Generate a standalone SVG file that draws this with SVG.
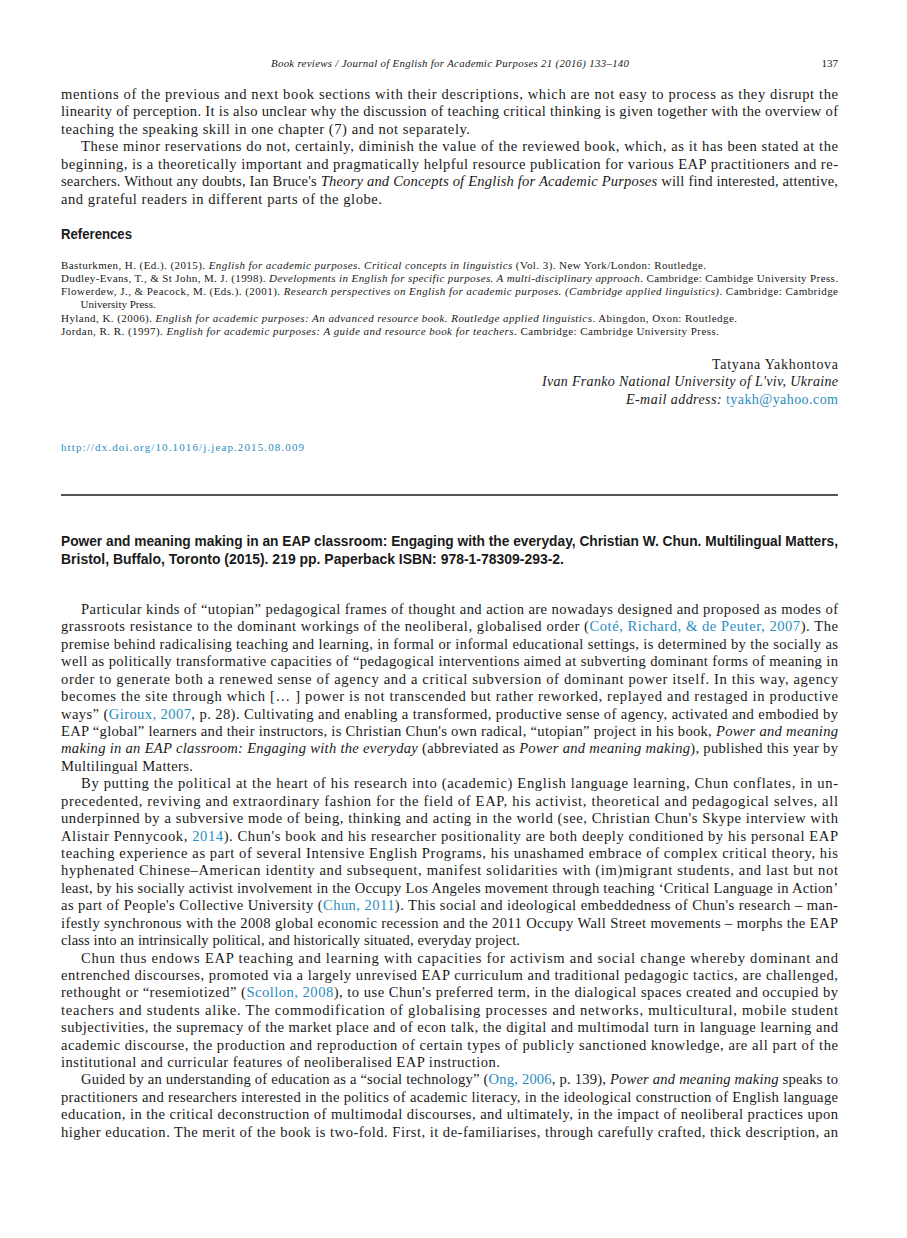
<svg xmlns="http://www.w3.org/2000/svg" width="907" height="1238" viewBox="0 0 907 1238">
<style>
.b{font-family:"Liberation Serif","DejaVu Serif",serif;font-size:14.6px;fill:#1a1a1a}
.r{font-family:"Liberation Serif","DejaVu Serif",serif;font-size:11px;fill:#1a1a1a}
.h{font-family:"Liberation Serif","DejaVu Serif",serif;font-size:10.8px;fill:#1a1a1a;font-style:italic}
.s{font-family:"Liberation Serif","DejaVu Serif",serif;font-size:14px;fill:#1a1a1a}
.t{font-family:"Liberation Sans","DejaVu Sans",sans-serif;font-size:14px;font-weight:bold;fill:#1a1a1a}
.i{font-style:italic}
.l{fill:#2a8cc0}
</style>
<rect width="907" height="1238" fill="#ffffff"/>
<g id="header">
<text class="h" x="271" y="66.5" textLength="358" lengthAdjust="spacing">Book reviews / Journal of English for Academic Purposes 21 (2016) 133–140</text>
<text class="r" x="838" y="66.5" text-anchor="end">137</text>
</g>
<g id="previous-review">
<text class="b" x="61" y="98.5" textLength="777" lengthAdjust="spacing">mentions of the previous and next book sections with their descriptions, which are not easy to process as they disrupt the</text>
<text class="b" x="61" y="116" textLength="777" lengthAdjust="spacing">linearity of perception. It is also unclear why the discussion of teaching critical thinking is given together with the overview of</text>
<text class="b" x="61" y="133.5" textLength="409" lengthAdjust="spacing">teaching the speaking skill in one chapter (7) and not separately.</text>
<text class="b" x="81" y="151" textLength="757" lengthAdjust="spacing">These minor reservations do not, certainly, diminish the value of the reviewed book, which, as it has been stated at the</text>
<text class="b" x="61" y="168.5" textLength="777" lengthAdjust="spacing">beginning, is a theoretically important and pragmatically helpful resource publication for various EAP practitioners and re-</text>
<text class="b" x="61" y="186" textLength="777" lengthAdjust="spacing">searchers. Without any doubts, Ian Bruce's <tspan class="i">Theory and Concepts of English for Academic Purposes</tspan> will find interested, attentive,</text>
<text class="b" x="61" y="203.5" textLength="321" lengthAdjust="spacing">and grateful readers in different parts of the globe.</text>
</g>
<g id="references">
<text class="t" x="61" y="239" textLength="71" lengthAdjust="spacingAndGlyphs">References</text>
<text class="r" x="61" y="268.5" textLength="645" lengthAdjust="spacing">Basturkmen, H. (Ed.). (2015). <tspan class="i">English for academic purposes. Critical concepts in linguistics</tspan> (Vol. 3). New York/London: Routledge.</text>
<text class="r" x="61" y="281.8" textLength="777" lengthAdjust="spacing">Dudley-Evans, T., &amp; St John, M. J. (1998). <tspan class="i">Developments in English for specific purposes. A multi-disciplinary approach</tspan>. Cambridge: Cambidge University Press.</text>
<text class="r" x="61" y="295.1" textLength="777" lengthAdjust="spacing">Flowerdew, J., &amp; Peacock, M. (Eds.). (2001). <tspan class="i">Research perspectives on English for academic purposes. (Cambridge applied linguistics)</tspan>. Cambridge: Cambridge</text>
<text class="r" x="80.5" y="308.4">University Press.</text>
<text class="r" x="61" y="321.7" textLength="676" lengthAdjust="spacing">Hyland, K. (2006). <tspan class="i">English for academic purposes: An advanced resource book. Routledge applied linguistics</tspan>. Abingdon, Oxon: Routledge.</text>
<text class="r" x="61" y="335" textLength="658" lengthAdjust="spacing">Jordan, R. R. (1997). <tspan class="i">English for academic purposes: A guide and resource book for teachers</tspan>. Cambridge: Cambridge University Press.</text>
</g>
<g id="signature">
<text class="s" x="838" y="368.5" text-anchor="end" textLength="126" lengthAdjust="spacing">Tatyana Yakhontova</text>
<text class="s i" x="838" y="386" text-anchor="end" textLength="296" lengthAdjust="spacing">Ivan Franko National University of L'viv, Ukraine</text>
<text class="s" x="838" y="403.5" text-anchor="end" textLength="212" lengthAdjust="spacing"><tspan class="i">E-mail address: </tspan><tspan class="l">tyakh@yahoo.com</tspan></text>
</g>
<g id="doi">
<text class="r l" x="61" y="450.5" textLength="243" lengthAdjust="spacing">http://dx.doi.org/10.1016/j.jeap.2015.08.009</text>
</g>
<line id="rule" x1="61" y1="495" x2="838" y2="495" stroke="#1a1a1a" stroke-width="1.3"/>
<g id="title">
<text class="t" x="61" y="545.5" textLength="777" lengthAdjust="spacingAndGlyphs">Power and meaning making in an EAP classroom: Engaging with the everyday, Christian W. Chun. Multilingual Matters,</text>
<text class="t" x="61" y="563.5" textLength="503" lengthAdjust="spacingAndGlyphs">Bristol, Buffalo, Toronto (2015). 219 pp. Paperback ISBN: 978-1-78309-293-2.</text>
</g>
<g id="review-body">
<text class="b" x="81" y="614" textLength="757" lengthAdjust="spacing">Particular kinds of “utopian” pedagogical frames of thought and action are nowadays designed and proposed as modes of</text>
<text class="b" x="61" y="631.4" textLength="777" lengthAdjust="spacing">grassroots resistance to the dominant workings of the neoliberal, globalised order (<tspan class="l">Coté, Richard, &amp; de Peuter, 2007</tspan>). The</text>
<text class="b" x="61" y="648.8" textLength="777" lengthAdjust="spacing">premise behind radicalising teaching and learning, in formal or informal educational settings, is determined by the socially as</text>
<text class="b" x="61" y="666.3" textLength="777" lengthAdjust="spacing">well as politically transformative capacities of “pedagogical interventions aimed at subverting dominant forms of meaning in</text>
<text class="b" x="61" y="683.7" textLength="777" lengthAdjust="spacing">order to generate both a renewed sense of agency and a critical subversion of dominant power itself. In this way, agency</text>
<text class="b" x="61" y="701.1" textLength="777" lengthAdjust="spacing">becomes the site through which [… ] power is not transcended but rather reworked, replayed and restaged in productive</text>
<text class="b" x="61" y="718.5" textLength="777" lengthAdjust="spacing">ways” (<tspan class="l">Giroux, 2007</tspan>, p. 28). Cultivating and enabling a transformed, productive sense of agency, activated and embodied by</text>
<text class="b" x="61" y="736" textLength="777" lengthAdjust="spacing">EAP “global” learners and their instructors, is Christian Chun's own radical, “utopian” project in his book, <tspan class="i">Power and meaning</tspan></text>
<text class="b" x="61" y="753.4" textLength="777" lengthAdjust="spacing"><tspan class="i">making in an EAP classroom: Engaging with the everyday</tspan> (abbreviated as <tspan class="i">Power and meaning making</tspan>), published this year by</text>
<text class="b" x="61" y="770.8" textLength="132" lengthAdjust="spacing">Multilingual Matters.</text>
<text class="b" x="81" y="788.2" textLength="757" lengthAdjust="spacing">By putting the political at the heart of his research into (academic) English language learning, Chun conflates, in un-</text>
<text class="b" x="61" y="805.7" textLength="777" lengthAdjust="spacing">precedented, reviving and extraordinary fashion for the field of EAP, his activist, theoretical and pedagogical selves, all</text>
<text class="b" x="61" y="823.1" textLength="777" lengthAdjust="spacing">underpinned by a subversive mode of being, thinking and acting in the world (see, Christian Chun's Skype interview with</text>
<text class="b" x="61" y="840.5" textLength="777" lengthAdjust="spacing">Alistair Pennycook, <tspan class="l">2014</tspan>). Chun's book and his researcher positionality are both deeply conditioned by his personal EAP</text>
<text class="b" x="61" y="857.9" textLength="777" lengthAdjust="spacing">teaching experience as part of several Intensive English Programs, his unashamed embrace of complex critical theory, his</text>
<text class="b" x="61" y="875.3" textLength="777" lengthAdjust="spacing">hyphenated Chinese–American identity and subsequent, manifest solidarities with (im)migrant students, and last but not</text>
<text class="b" x="61" y="892.8" textLength="777" lengthAdjust="spacing">least, by his socially activist involvement in the Occupy Los Angeles movement through teaching ‘Critical Language in Action’</text>
<text class="b" x="61" y="910.2" textLength="777" lengthAdjust="spacing">as part of People's Collective University (<tspan class="l">Chun, 2011</tspan>). This social and ideological embeddedness of Chun's research – man-</text>
<text class="b" x="61" y="927.6" textLength="777" lengthAdjust="spacing">ifestly synchronous with the 2008 global economic recession and the 2011 Occupy Wall Street movements – morphs the EAP</text>
<text class="b" x="61" y="945" textLength="459" lengthAdjust="spacing">class into an intrinsically political, and historically situated, everyday project.</text>
<text class="b" x="81" y="962.5" textLength="757" lengthAdjust="spacing">Chun thus endows EAP teaching and learning with capacities for activism and social change whereby dominant and</text>
<text class="b" x="61" y="979.9" textLength="777" lengthAdjust="spacing">entrenched discourses, promoted via a largely unrevised EAP curriculum and traditional pedagogic tactics, are challenged,</text>
<text class="b" x="61" y="997.3" textLength="777" lengthAdjust="spacing">rethought or “resemiotized” (<tspan class="l">Scollon, 2008</tspan>), to use Chun's preferred term, in the dialogical spaces created and occupied by</text>
<text class="b" x="61" y="1014.7" textLength="777" lengthAdjust="spacing">teachers and students alike. The commodification of globalising processes and networks, multicultural, mobile student</text>
<text class="b" x="61" y="1032.2" textLength="777" lengthAdjust="spacing">subjectivities, the supremacy of the market place and of econ talk, the digital and multimodal turn in language learning and</text>
<text class="b" x="61" y="1049.6" textLength="777" lengthAdjust="spacing">academic discourse, the production and reproduction of certain types of publicly sanctioned knowledge, are all part of the</text>
<text class="b" x="61" y="1067" textLength="439" lengthAdjust="spacing">institutional and curricular features of neoliberalised EAP instruction.</text>
<text class="b" x="81" y="1084.4" textLength="757" lengthAdjust="spacing">Guided by an understanding of education as a “social technology” (<tspan class="l">Ong, 2006</tspan>, p. 139), <tspan class="i">Power and meaning making</tspan> speaks to</text>
<text class="b" x="61" y="1101.8" textLength="777" lengthAdjust="spacing">practitioners and researchers interested in the politics of academic literacy, in the ideological construction of English language</text>
<text class="b" x="61" y="1119.3" textLength="777" lengthAdjust="spacing">education, in the critical deconstruction of multimodal discourses, and ultimately, in the impact of neoliberal practices upon</text>
<text class="b" x="61" y="1136.7" textLength="777" lengthAdjust="spacing">higher education. The merit of the book is two-fold. First, it de-familiarises, through carefully crafted, thick description, an</text>
</g>
</svg>
